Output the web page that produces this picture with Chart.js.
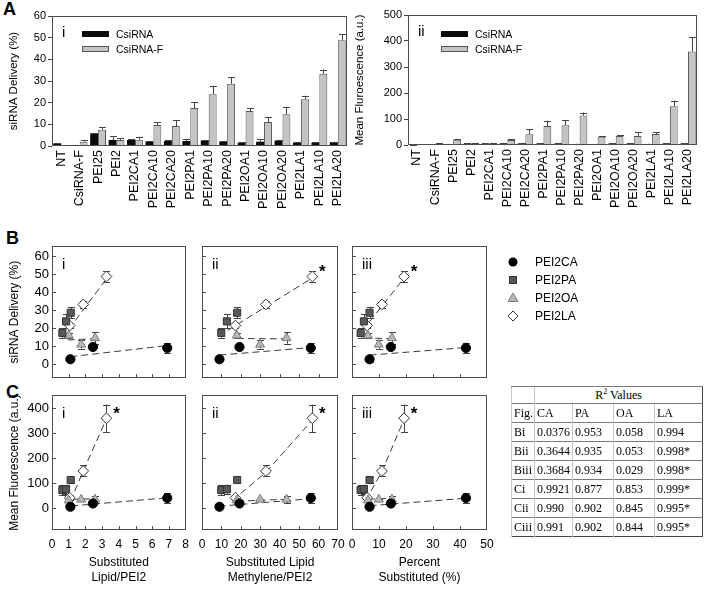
<!DOCTYPE html>
<html>
<head>
<meta charset="utf-8">
<script src="https://cdn.jsdelivr.net/npm/chart.js@4.4.1/dist/chart.umd.min.js"></script>
<style>
  html, body { margin: 0; padding: 0; background: #fff; }
  body { width: 706px; height: 591px; position: relative; overflow: hidden;
         font-family: "Liberation Sans", Arial, sans-serif; color: #000; }
  canvas { position: absolute; }
  .letter { position: absolute; font-weight: bold; font-size: 18px; line-height: 18px; }
  .lg { position: absolute; font-size: 10.5px; line-height: 12px; }
  .lg i { position: absolute; width: 27px; height: 6px; box-sizing: border-box; }
  .lg span { position: absolute; left: 34px; top: -3px; white-space: nowrap; }
  #legendB { position: absolute; left: 505px; top: 253px; font-size: 12px; }
  #legendB div { position: relative; height: 18px; }
  #legendB svg { position: absolute; left: 0; top: 2px; }
  #legendB span { position: absolute; left: 30px; top: 2px; }
  #r2 { position: absolute; left: 511px; top: 386px; width: 191px; border-collapse: collapse;
        font-family: "Liberation Serif", "Times New Roman", serif; font-size: 12px;
        border: 1px solid #444; table-layout: fixed; }
  #r2 td { border-top: 1px solid #7a7a7a; border-left: 1px solid #c8c8c8; padding: 0 2px;
           height: 18px; line-height: 18px; white-space: nowrap; overflow: hidden; }
  #r2 tr.head td { height: 16px; line-height: 16px; text-align: center; }
  #r2 tr.head td:first-child { text-align: left; }
</style>
</head>
<body>

<div class="letter" style="left:3px;top:0px">A</div>
<div class="letter" style="left:6px;top:229px">B</div>
<div class="letter" style="left:6px;top:383px">C</div>

<canvas id="a1" width="352" height="230" style="left:0;top:0"></canvas>
<canvas id="a2" width="354" height="230" style="left:352px;top:0"></canvas>

<canvas id="b1" width="192" height="145" style="left:0;top:240px"></canvas>
<canvas id="b2" width="152" height="145" style="left:195px;top:240px"></canvas>
<canvas id="b3" width="152" height="145" style="left:345px;top:240px"></canvas>

<canvas id="c1" width="192" height="203" style="left:0;top:388px"></canvas>
<canvas id="c2" width="152" height="203" style="left:195px;top:388px"></canvas>
<canvas id="c3" width="152" height="203" style="left:345px;top:388px"></canvas>

<div class="lg" style="left:82px;top:31px"><i style="background:#0a0a0a"></i><span>CsiRNA</span></div>
<div class="lg" style="left:82px;top:46px"><i style="background:#c4c4c4;border:1px solid #555"></i><span>CsiRNA-F</span></div>
<div class="lg" style="left:441px;top:31px"><i style="background:#0a0a0a"></i><span>CsiRNA</span></div>
<div class="lg" style="left:441px;top:46px"><i style="background:#c4c4c4;border:1px solid #555"></i><span>CsiRNA-F</span></div>

<div id="legendB"></div>
<table id="r2"></table>

<script>
// ---------- data ----------
const categories = ['NT', 'CsiRNA-F', 'PEI25', 'PEI2', 'PEI2CA1', 'PEI2CA10', 'PEI2CA20',
  'PEI2PA1', 'PEI2PA10', 'PEI2PA20', 'PEI2OA1', 'PEI2OA10', 'PEI2OA20',
  'PEI2LA1', 'PEI2LA10', 'PEI2LA20'];

// siRNA delivery (%)
const deliveryCsiRNA     = [1.2, 0, 5.8, 2.8, 2.8, 2.1, 2.3, 2.3, 2.5, 2.0, 1.6, 2.0, 2.5, 1.6, 1.5, 1.8];
const deliveryCsiRNAErr  = [0.2, 0, 0.3, 1.7, 0.3, 0.2, 0.3, 0.8, 0.3, 0.3, 0.2, 1.1, 0.3, 0.2, 0.2, 0.2];
const deliveryCsiRNAF    = [0, 2.0, 7.5, 2.8, 2.9, 9.7, 9.2, 17.5, 23.9, 28.7, 16.1, 11.1, 14.7, 21.6, 33.3, 48.8];
const deliveryCsiRNAFErr = [0, 0.8, 1.3, 0.8, 1.4, 1.2, 2.7, 2.7, 3.9, 3.1, 1.5, 2.3, 3.2, 1.6, 2.0, 2.9];

// mean fluorescence (a.u.)
const fluorCsiRNA     = [0.5, 0, 3, 5, 5, 5, 6, 5, 5, 4, 3, 5, 5, 4, 5, 5];
const fluorCsiRNAErr  = [0.5, 0, 1, 1, 1, 1, 1, 1, 1, 1, 1, 1, 1, 1, 1, 1];
const fluorCsiRNAF    = [3, 5, 20, 7, 6, 19, 41, 73, 76, 113, 32, 35, 35, 42, 149, 360];
const fluorCsiRNAFErr = [1, 1, 2, 1, 1, 4, 19, 21, 19, 12, 2, 2, 15, 8, 22, 55];

// x values for the lipid series (CA, PA, OA, LA), formulations 1 / 10 / 20
const lipidGroups = ['PEI2CA', 'PEI2PA', 'PEI2OA', 'PEI2LA'];
const xLipidPerPEI     = [[1.1, 2.45, 6.9], [0.62, 0.84, 1.12], [1.0, 1.75, 2.58], [1.06, 1.87, 3.26]];
const xMethylenePerPEI = [[9.0, 19.3, 56.0], [9.9, 12.8, 18.1], [17.9, 29.9, 43.5], [17.2, 32.9, 56.8]];
const xPercentSub      = [[6.5, 14.4, 42.2], [3.2, 4.4, 6.5], [5.9, 9.9, 14.8], [5.6, 11.1, 19.3]];

// dashed fit lines (CA, OA, LA)
const fitGroups = ['PEI2CA', 'PEI2OA', 'PEI2LA'];
const fitX_B = [[[1.1, 6.9], [0.95, 2.6], [1.0, 3.26]],
                [[9.0, 56.0], [17.9, 43.5], [13.3, 56.8]],
                [[6.5, 42.2], [4.5, 14.8], [4.0, 19.3]]];
const fitY_B = [[[4.3, 10.5], [13.6, 14.3], [19.5, 47.5]],
                [[5.2, 9.4], [14.4, 14.2], [19.0, 48.0]],
                [[5.2, 9.4], [14.8, 14.2], [19.0, 47.9]]];
const fitX_C = [[[1.15, 6.95], [1.2, 2.6], [1.1, 1.87, 3.26]],
                [[8.5, 56.0], [17.9, 43.5], [15.5, 32.9, 56.8]],
                [[6.5, 42.2], [5.9, 14.8], [5.0, 11.1, 19.3]]];
const fitY_C = [[[9, 42], [36, 38], [27, 149, 358]],
                [[8, 38], [28, 36], [30, 144, 353]],
                [[10, 40], [36, 40], [30, 147, 356]]];

// tick labels
const deliveryTicks = [0, 10, 20, 30, 40, 50, 60];
const fluorTicksA   = [0, 100, 200, 300, 400, 500];
const fluorTicksC   = [0, 100, 200, 300, 400];
const xTicksLipid     = [0, 1, 2, 3, 4, 5, 6, 7, 8];
const xTicksMethylene = [0, 10, 20, 30, 40, 50, 60, 70];
const xTicksPercent   = [0, 10, 20, 30, 40, 50];

// R² table
const r2Figs = ['Bi', 'Bii', 'Biii', 'Ci', 'Cii', 'Ciii'];
const r2CA = ['0.0376', '0.3644', '0.3684', '0.9921', '0.990', '0.991'];
const r2PA = ['0.953', '0.935', '0.934', '0.877', '0.902', '0.902'];
const r2OA = ['0.058', '0.053', '0.029', '0.853', '0.845', '0.844'];
const r2LA = ['0.994', '0.998*', '0.998*', '0.999*', '0.995*', '0.995*'];

// ---------- styling ----------
Chart.defaults.font.family = '"Liberation Sans", Arial, sans-serif';
Chart.defaults.color = '#000';

const markerStyles = [
  { style: 'circle',   r: 4.6, fill: '#000',    line: '#000' },
  { style: 'rect',     r: 5.0, fill: '#585858', line: '#333' },
  { style: 'triangle', r: 5.2, fill: '#b8b8b8', line: '#7a7a7a' },
  { style: 'rectRot',  r: 5.4, fill: '#fff',    line: '#333' }
];

// frame, tick marks, error bars, panel numerals, asterisks
function drawErrors(chart, both, capW) {
  const ctx = chart.ctx, y = chart.scales.y;
  ctx.save();
  ctx.strokeStyle = '#444';
  ctx.lineWidth = 1;
  chart.data.datasets.forEach((ds, i) => {
    if (!ds.errors) return;
    const meta = chart.getDatasetMeta(i);
    meta.data.forEach((el, j) => {
      const e = ds.errors[j];
      if (!e) return;
      const raw = ds.data[j];
      const v = typeof raw === 'number' ? raw : raw.y;
      const top = y.getPixelForValue(v + e);
      const bot = both ? y.getPixelForValue(v - e) : y.getPixelForValue(v);
      const x = Math.round(el.x) + 0.5;
      ctx.beginPath();
      ctx.moveTo(x, top); ctx.lineTo(x, bot);
      ctx.moveTo(x - capW / 2, Math.round(top) + 0.5); ctx.lineTo(x + capW / 2, Math.round(top) + 0.5);
      if (both) { ctx.moveTo(x - capW / 2, Math.round(bot) + 0.5); ctx.lineTo(x + capW / 2, Math.round(bot) + 0.5); }
      ctx.stroke();
    });
  });
  ctx.restore();
}

const decoPlugin = {
  id: 'deco',
  beforeDatasetsDraw(chart, args, o) {
    if (o.errorMode === 'both') drawErrors(chart, true, 7);
  },
  afterDatasetsDraw(chart, args, o) {
    if (o.errorMode === 'up') drawErrors(chart, false, 7);
  },
  afterDraw(chart, args, o) {
    const { ctx, chartArea: a, scales } = chart;
    ctx.save();
    ctx.strokeStyle = '#4d4d4d';
    ctx.lineWidth = 1;
    const L = Math.round(a.left), T = Math.round(a.top), R = Math.round(a.right), B = Math.round(a.bottom);
    ctx.strokeRect(L + 0.5, T + 0.5, R - L - 1, B - T - 1);
    if (o.insideTicks) {
      ctx.beginPath();
      scales.y.ticks.forEach(t => {
        const py = Math.round(scales.y.getPixelForValue(t.value)) + 0.5;
        if (py > T + 2 && py < B - 2) { ctx.moveTo(L, py); ctx.lineTo(L + 4, py); }
      });
      scales.x.ticks.forEach(t => {
        const px = Math.round(scales.x.getPixelForValue(t.value)) + 0.5;
        if (px > L + 2 && px < R - 2) { ctx.moveTo(px, B); ctx.lineTo(px, B - 4); }
      });
      ctx.stroke();
    }
    ctx.fillStyle = '#000';
    ctx.textBaseline = 'middle';
    ctx.textAlign = 'left';
    ctx.font = '15px "Liberation Sans", Arial, sans-serif';
    ctx.fillText(o.numeral, L + 10, T + o.numeralY);
    chart.data.datasets.forEach((ds, i) => {
      if (!ds.starred) return;
      const pts = chart.getDatasetMeta(i).data;
      const el = pts[pts.length - 1];
      ctx.font = 'bold 17px "Liberation Sans", Arial, sans-serif';
      ctx.textAlign = 'center';
      ctx.fillText('*', el.x + 10, el.y - 4);
    });
    ctx.restore();
  }
};
Chart.register(decoPlugin);

function fixedTicks(list) {
  return scale => { scale.ticks = list.map(v => ({ value: v })); };
}
// fix the scale box size and stop edge labels from shrinking the plot area
function fixSize(prop, size) {
  return scale => {
    scale[prop] = size;
    scale.paddingLeft = scale.paddingRight = scale.paddingTop = scale.paddingBottom = 0;
  };
}

// ---------- panel A: bar charts ----------
function barPanel(id, g, cfg) {
  new Chart(document.getElementById(id), {
    type: 'bar',
    data: {
      labels: categories,
      datasets: [
        { label: 'CsiRNA', data: cfg.black, errors: cfg.blackErr,
          backgroundColor: '#0a0a0a', borderWidth: 0 },
        { label: 'CsiRNA-F', data: cfg.gray, errors: cfg.grayErr,
          backgroundColor: '#c4c4c4', borderColor: '#555', borderWidth: 1 }
      ]
    },
    options: {
      responsive: false, animation: false, events: [],
      layout: { padding: { top: g.padT, right: g.padR, left: 0, bottom: 0 } },
      datasets: { bar: { categoryPercentage: 0.86, barPercentage: 1 } },
      plugins: {
        legend: { display: false }, tooltip: { enabled: false },
        deco: { numeral: cfg.numeral, numeralY: 17, errorMode: 'up', insideTicks: false }
      },
      scales: {
        x: {
          grid: { display: false, drawTicks: false }, border: { display: false },
          ticks: { autoSkip: false, minRotation: 90, maxRotation: 90, padding: 4, font: { size: 12.5 } },
          afterFit: fixSize('height', g.xH)
        },
        y: {
          min: 0, max: cfg.yMax,
          afterBuildTicks: fixedTicks(cfg.yTicks),
          afterFit: fixSize('width', g.yW),
          grid: { display: true, drawOnChartArea: false, drawTicks: true, tickLength: 4, color: '#444' },
          border: { display: false },
          ticks: { padding: 2, font: { size: 11 } },
          title: { display: true, text: cfg.yTitle, font: { size: 11.5 }, padding: { top: g.titleTop, bottom: 0 } }
        }
      }
    }
  });
}

barPanel('a1', { padT: 16, padR: 5, yW: 52, xH: 84, titleTop: 7 }, {
  black: deliveryCsiRNA, blackErr: deliveryCsiRNAErr,
  gray: deliveryCsiRNAF, grayErr: deliveryCsiRNAFErr,
  yMax: 60, yTicks: deliveryTicks, yTitle: 'siRNA Delivery (%)', numeral: 'i'
});
barPanel('a2', { padT: 15, padR: 9, yW: 56, xH: 85, titleTop: 1 }, {
  black: fluorCsiRNA, blackErr: fluorCsiRNAErr,
  gray: fluorCsiRNAF, grayErr: fluorCsiRNAFErr,
  yMax: 500, yTicks: fluorTicksA, yTitle: 'Mean Fluroescence (a.u.)', numeral: 'ii'
});

// ---------- panels B and C: scatter plots ----------
function scatterPanel(id, g, cfg) {
  const datasets = [];
  lipidGroups.forEach((name, k) => {
    const start = categories.indexOf(name + '1');
    const ys = cfg.yValues.slice(start, start + 3);
    const ms = markerStyles[k];
    datasets.push({
      label: name,
      data: cfg.xValues[k].map((x, i) => ({ x, y: ys[i] })),
      errors: cfg.yErrors.slice(start, start + 3),
      pointStyle: ms.style, pointRadius: ms.r,
      backgroundColor: ms.fill, borderColor: ms.line, borderWidth: 1,
      showLine: false, order: 1,
      starred: name === 'PEI2LA' && cfg.star
    });
  });
  fitGroups.forEach((name, k) => {
    datasets.push({
      label: name + ' fit',
      data: cfg.fitX[k].map((x, i) => ({ x, y: cfg.fitY[k][i] })),
      showLine: true, pointRadius: 0, borderColor: '#3a3a3a', borderWidth: 1,
      borderDash: [7, 4], order: 5
    });
  });
  new Chart(document.getElementById(id), {
    type: 'scatter',
    data: { datasets },
    options: {
      responsive: false, animation: false, events: [],
      layout: { padding: { top: g.padT, right: g.padR, left: 0, bottom: 0 } },
      plugins: {
        legend: { display: false }, tooltip: { enabled: false },
        deco: { numeral: cfg.numeral, numeralY: 19, errorMode: 'both', insideTicks: true }
      },
      scales: {
        x: {
          type: 'linear', min: cfg.xTicks[0], max: cfg.xTicks[cfg.xTicks.length - 1],
          afterBuildTicks: fixedTicks(cfg.xTicks),
          afterFit: fixSize('height', g.xH),
          grid: { display: false, drawTicks: false }, border: { display: false },
          ticks: { display: !!cfg.xTitle, padding: 7, maxRotation: 0, font: { size: 12 } },
          title: { display: !!cfg.xTitle, text: cfg.xTitle || '', font: { size: 12, lineHeight: 1.25 },
                   padding: { top: 0, bottom: 6 } }
        },
        y: {
          min: cfg.yMin, max: cfg.yMax,
          afterBuildTicks: fixedTicks(cfg.yTicks),
          afterFit: fixSize('width', g.yW),
          grid: { display: false, drawTicks: false }, border: { display: false },
          ticks: { display: !!cfg.yTitle, padding: 3, font: { size: 13 } },
          title: { display: !!cfg.yTitle, text: cfg.yTitle || '', font: { size: 12 },
                   padding: { top: 7, bottom: 0 } }
        }
      }
    }
  });
}

const colI   = { yW: 52, padR: 6 };
const colII  = { yW: 7,  padR: 9 };
const colIII = { yW: 7,  padR: 10 };
const rowB = { padT: 6, xH: 7 };
const rowC = { padT: 7, xH: 61 };

const xSets = [
  { xValues: xLipidPerPEI, xTicks: xTicksLipid, xTitle: ['Substituted', 'Lipid/PEI2'], numeral: 'i' },
  { xValues: xMethylenePerPEI, xTicks: xTicksMethylene, xTitle: ['Substituted Lipid', 'Methylene/PEI2'], numeral: 'ii' },
  { xValues: xPercentSub, xTicks: xTicksPercent, xTitle: ['Percent', 'Substituted (%)'], numeral: 'iii' }
];
const cols = [colI, colII, colIII];

xSets.forEach((xs, p) => {
  scatterPanel('b' + (p + 1), Object.assign({}, cols[p], rowB), {
    xValues: xs.xValues, xTicks: xs.xTicks, numeral: xs.numeral,
    yValues: deliveryCsiRNAF, yErrors: deliveryCsiRNAFErr,
    yMin: -7.5, yMax: 65.5, yTicks: deliveryTicks,
    yTitle: p === 0 ? 'siRNA Delivery (%)' : null,
    fitX: fitX_B[p], fitY: fitY_B[p], star: p > 0
  });
  scatterPanel('c' + (p + 1), Object.assign({}, cols[p], rowC), {
    xValues: xs.xValues, xTicks: xs.xTicks, xTitle: xs.xTitle, numeral: xs.numeral,
    yValues: fluorCsiRNAF, yErrors: fluorCsiRNAFErr,
    yMin: -87, yMax: 453, yTicks: fluorTicksC,
    yTitle: p === 0 ? 'Mean Fluorescence (a.u.)' : null,
    fitX: fitX_C[p], fitY: fitY_C[p], star: true
  });
});

// ---------- legend for B / C ----------
const legendB = document.getElementById('legendB');
lipidGroups.forEach((name, k) => {
  const ms = markerStyles[k];
  let shape;
  if (ms.style === 'circle') shape = '<circle cx="8" cy="7" r="4.5" fill="' + ms.fill + '"/>';
  else if (ms.style === 'rect') shape = '<rect x="4.5" y="3.5" width="7" height="7" fill="' + ms.fill + '" stroke="' + ms.line + '"/>';
  else if (ms.style === 'triangle') shape = '<polygon points="8,2 13,10.5 3,10.5" fill="' + ms.fill + '" stroke="' + ms.line + '"/>';
  else shape = '<polygon points="8,2 13,7 8,12 3,7" fill="' + ms.fill + '" stroke="' + ms.line + '"/>';
  const row = document.createElement('div');
  row.innerHTML = '<svg width="16" height="14">' + shape + '</svg><span>' + name + '</span>';
  legendB.appendChild(row);
});

// ---------- R² table ----------
const widths = [23, 38, 41, 41, 48];
let html = '<colgroup>' + widths.map(w => '<col style="width:' + w + 'px">').join('') + '</colgroup>';
html += '<tr class="head"><td></td><td colspan="4">R<sup style="font-size:8px;line-height:0">2</sup> Values</td></tr>';
html += '<tr><td>Fig.</td><td>CA</td><td>PA</td><td>OA</td><td>LA</td></tr>';
r2Figs.forEach((f, i) => {
  html += '<tr><td>' + f + '</td><td>' + r2CA[i] + '</td><td>' + r2PA[i] + '</td><td>' +
          r2OA[i] + '</td><td>' + r2LA[i] + '</td></tr>';
});
document.getElementById('r2').innerHTML = html;
</script>
</body>
</html>
